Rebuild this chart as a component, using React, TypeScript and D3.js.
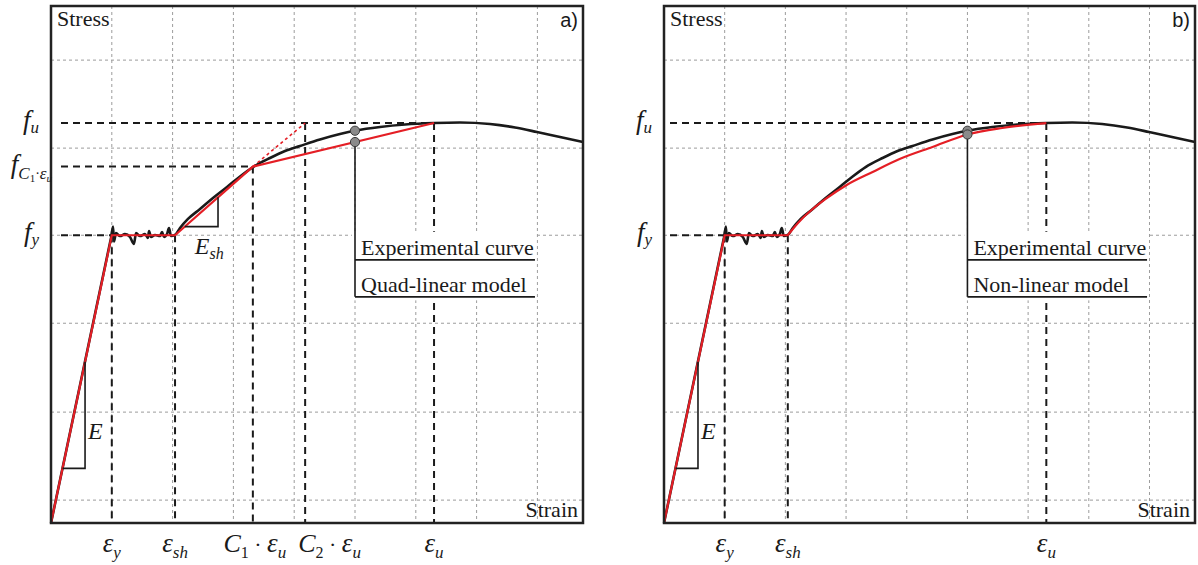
import * as d3 from "d3";
import React, { useEffect, useRef } from "react";

// schematic stress-strain curves, arbitrary units (1 grid step = 1 unit of strain)
const STRAIN_GRID = [1, 2, 3, 4, 5, 6, 7, 8];
const STRESS_GRID = [0.26, 1.26, 2.27, 3.27, 4.26, 5.26];

const EPS_Y = 1.0;
const EPS_SH = 2.04;
const C1_EPS_U = 3.32;
const C2_EPS_U = 4.18;
const EPS_U = 6.3;
const F_Y = 3.27;
const F_C1 = 4.05;
const F_U = 4.545;
const MARK_STRAIN = 5.0;

// experimental curve [strain, stress]
const experimental = [
  [0, 0], [0.987, 3.239], [1.02, 3.37], [1.036, 3.2], [1.069, 3.295],
  [1.135, 3.261], [1.217, 3.284], [1.299, 3.25], [1.365, 3.172], [1.398, 3.295],
  [1.464, 3.261], [1.546, 3.284], [1.595, 3.239], [1.612, 3.318], [1.645, 3.25],
  [1.711, 3.273], [1.793, 3.261], [1.826, 3.307], [1.859, 3.25], [1.908, 3.284],
  [1.941, 3.352], [1.974, 3.261], [2.039, 3.273], [2.122, 3.352], [2.253, 3.455],
  [2.451, 3.568], [2.664, 3.693], [2.895, 3.818], [3.109, 3.938], [3.322, 4.045],
  [3.602, 4.148], [3.849, 4.227], [4.095, 4.284], [4.424, 4.358], [4.753, 4.42],
  [5.016, 4.46], [5.411, 4.5], [5.822, 4.528], [6.299, 4.545], [6.727, 4.551],
  [7.22, 4.534], [7.632, 4.494], [7.993, 4.443], [8.372, 4.386], [8.75, 4.33],
];

const quadLinear = [
  [0, 0], [EPS_Y, F_Y], [EPS_SH, F_Y], [C1_EPS_U, F_C1], [EPS_U, F_U],
];
const eshExtension = [[C1_EPS_U, F_C1], [C2_EPS_U, F_U]];

// non-linear model: straight elastic + plateau, then the hardening branch
const nonLinearStraight = [[0, 0], [EPS_Y, F_Y], [EPS_SH, F_Y]];
const nonLinearHardening = [
  [EPS_SH, F_Y], [2.122, 3.341], [2.286, 3.466], [2.451, 3.568], [2.664, 3.682],
  [3.01, 3.841], [3.438, 3.989], [3.882, 4.136], [4.424, 4.273], [5.0, 4.415],
  [5.576, 4.489], [EPS_U, F_U],
];

const E_TRI = [0.19, 0.56];
const ESH_TRI = [2.2, 2.747];

const RED = "#e41e25";
const INK = "#1a1a1a";
const SERIF = "Liberation Serif, Tinos, Times New Roman, Times, DejaVu Serif, serif";
const SANS = "Liberation Sans, Arimo, Arial, sans-serif";

const panels = [
  { left: 51, top: 6, width: 532, height: 517, kind: "quad", tag: "a)", model: "Quad-linear model", refStart: 10 },
  { left: 664, top: 6, width: 531, height: 517, kind: "nonlinear", tag: "b)", model: "Non-linear model", refStart: 6 },
];

// piecewise linear lookup
const stressAt = (pts, s) => {
  const i = d3.bisector((d) => d[0]).left(pts, s);
  if (i <= 0) return pts[0][1];
  if (i >= pts.length) return pts[pts.length - 1][1];
  const [x0, y0] = pts[i - 1];
  const [x1, y1] = pts[i];
  return y0 + ((s - x0) / (x1 - x0)) * (y1 - y0);
};

const drawPanel = (svg, p) => {
  const x = d3.scaleLinear().domain([0, 8.75]).range([0, p.width]);
  const y = d3.scaleLinear().domain([0, 5.875]).range([p.height, 0]);
  const g = svg.append("g").attr("transform", `translate(${p.left},${p.top})`);
  const quad = p.kind === "quad";

  // light grid
  g.selectAll(".vgrid").data(STRAIN_GRID).join("line")
    .attr("x1", (d) => x(d)).attr("x2", (d) => x(d))
    .attr("y1", 0).attr("y2", p.height)
    .attr("stroke", "#9c9c9c").attr("stroke-width", 1).attr("stroke-dasharray", "3,3");
  g.selectAll(".hgrid").data(STRESS_GRID).join("line")
    .attr("x1", 0).attr("x2", p.width)
    .attr("y1", (d) => y(d)).attr("y2", (d) => y(d))
    .attr("stroke", "#9c9c9c").attr("stroke-width", 1).attr("stroke-dasharray", "3,3");

  // reference dashed lines
  const hRefs = [[F_U, EPS_U], [F_Y, EPS_Y]];
  const vRefs = [[EPS_Y, F_Y], [EPS_SH, F_Y], [EPS_U, F_U]];
  if (quad) {
    hRefs.push([F_C1, C1_EPS_U]);
    vRefs.push([C1_EPS_U, F_C1], [C2_EPS_U, F_U]);
  }
  hRefs.forEach(([f, e]) => {
    g.append("line").attr("x1", p.refStart).attr("x2", x(e)).attr("y1", y(f)).attr("y2", y(f))
      .attr("stroke", INK).attr("stroke-width", 2).attr("stroke-dasharray", "7,5");
  });
  vRefs.forEach(([e, f]) => {
    g.append("line").attr("x1", x(e)).attr("x2", x(e)).attr("y1", y(f)).attr("y2", p.height)
      .attr("stroke", INK).attr("stroke-width", 2).attr("stroke-dasharray", "7,5");
  });

  // legend background
  g.append("rect")
    .attr("x", x(4.95)).attr("y", y(3.31))
    .attr("width", x(7.98) - x(4.95)).attr("height", y(2.53) - y(3.31))
    .attr("fill", "white");

  const lin = d3.line().x((d) => x(d[0])).y((d) => y(d[1]));
  const smooth = d3.line().x((d) => x(d[0])).y((d) => y(d[1])).curve(d3.curveMonotoneX);

  // experimental: straight elastic part, smooth afterwards
  g.append("path").attr("d", lin(experimental.slice(0, 2)) + smooth(experimental.slice(1)).replace(/^M/, "L"))
    .attr("fill", "none").attr("stroke", INK).attr("stroke-width", 2.6)
    .attr("stroke-linejoin", "round");

  if (quad) {
    g.append("path").attr("d", lin(quadLinear))
      .attr("fill", "none").attr("stroke", RED).attr("stroke-width", 2.2);
    g.append("path").attr("d", lin(eshExtension))
      .attr("fill", "none").attr("stroke", RED).attr("stroke-width", 1.6)
      .attr("stroke-dasharray", "3,3");
  } else {
    g.append("path").attr("d", lin(nonLinearStraight) + smooth(nonLinearHardening).replace(/^M/, "L"))
      .attr("fill", "none").attr("stroke", RED).attr("stroke-width", 2.2);
  }
  const model = quad ? quadLinear : nonLinearHardening;

  // slope triangles
  const kE = F_Y / EPS_Y;
  g.append("path")
    .attr("d", `M${x(E_TRI[0])},${y(E_TRI[0] * kE)}H${x(E_TRI[1])}V${y(E_TRI[1] * kE)}`)
    .attr("fill", "none").attr("stroke", INK).attr("stroke-width", 1.6);
  g.append("text").attr("x", x(E_TRI[1]) + 3).attr("y", y(0.95))
    .attr("font-family", SERIF).attr("font-style", "italic").attr("font-size", 24)
    .attr("fill", INK).text("E");

  if (quad) {
    const kSh = (F_C1 - F_Y) / (C1_EPS_U - EPS_SH);
    const sAt = (s) => F_Y + (s - EPS_SH) * kSh;
    g.append("path")
      .attr("d", `M${x(ESH_TRI[0])},${y(sAt(ESH_TRI[0]))}H${x(ESH_TRI[1])}V${y(sAt(ESH_TRI[1]))}`)
      .attr("fill", "none").attr("stroke", INK).attr("stroke-width", 1.6);
    const t = g.append("text").attr("x", x(ESH_TRI[0]) + 10).attr("y", y(sAt(ESH_TRI[0])) + 27)
      .attr("font-family", SERIF).attr("font-style", "italic").attr("font-size", 24).attr("fill", INK);
    t.append("tspan").text("E");
    t.append("tspan").attr("font-size", 16).attr("dy", 5).text("sh");
  }

  // markers and legend
  const yBlack = y(stressAt(experimental, MARK_STRAIN));
  const yRed = y(stressAt(model, MARK_STRAIN));
  const xm = x(MARK_STRAIN);
  const yTop = y(2.99);
  const yBot = y(2.57);
  g.append("line").attr("x1", xm).attr("x2", xm).attr("y1", yRed).attr("y2", yBot)
    .attr("stroke", INK).attr("stroke-width", 1.6);
  [yTop, yBot].forEach((yy) => {
    g.append("line").attr("x1", xm).attr("x2", x(7.96)).attr("y1", yy).attr("y2", yy)
      .attr("stroke", INK).attr("stroke-width", 1.6);
  });
  [yBlack, yRed].forEach((yy) => {
    g.append("circle").attr("cx", xm).attr("cy", yy).attr("r", 4.6)
      .attr("fill", "#8a8a8a").attr("stroke", "#3a3a3a").attr("stroke-width", 1);
  });
  g.append("text").attr("x", xm + 6).attr("y", yTop - 5)
    .attr("font-family", SERIF).attr("font-size", 22).attr("fill", INK).text("Experimental curve");
  g.append("text").attr("x", xm + 6).attr("y", yBot - 5)
    .attr("font-family", SERIF).attr("font-size", 22).attr("fill", INK).text(p.model);

  // frame and corner text
  g.append("rect").attr("width", p.width).attr("height", p.height)
    .attr("fill", "none").attr("stroke", "#222").attr("stroke-width", 2.5);
  g.append("text").attr("x", 6).attr("y", 20)
    .attr("font-family", SERIF).attr("font-size", 22).attr("fill", INK).text("Stress");
  g.append("text").attr("x", p.width - 5).attr("y", p.height - 6).attr("text-anchor", "end")
    .attr("font-family", SERIF).attr("font-size", 22).attr("fill", INK).text("Strain");
  g.append("text").attr("x", p.width - 5).attr("y", 21).attr("text-anchor", "end")
    .attr("font-family", SANS).attr("font-size", 20)
    .attr("fill", INK).text(p.tag);

  // stress labels
  const fLabel = (stress, parts, xr) => {
    const t = g.append("text").attr("x", xr).attr("y", y(stress) + 6).attr("text-anchor", "end")
      .attr("font-family", SERIF).attr("font-style", "italic").attr("font-size", 27).attr("fill", INK);
    t.append("tspan").text("f");
    parts.forEach(([txt, size, dy, style]) => {
      const s = t.append("tspan").attr("font-size", size).attr("dy", dy).text(txt);
      if (style) s.attr("font-style", style);
    });
  };
  fLabel(F_U, [["u", 17, 4]], -12);
  fLabel(F_Y, [["y", 17, 4]], -12);
  if (quad) {
    fLabel(F_C1, [["C", 17, 6], ["1", 11, 3, "normal"], ["\u00b7", 14, -4, "normal"], ["\u03b5", 17, 1], ["u", 11, 3]], 1);
  }

  // strain labels
  const eLabel = (strain, parts, anchor, dx) => {
    const t = g.append("text").attr("x", x(strain) + dx).attr("y", p.height + 29)
      .attr("text-anchor", anchor).attr("font-family", SERIF).attr("font-style", "italic")
      .attr("font-size", 27).attr("fill", INK);
    parts.forEach(([txt, size, dy, style]) => {
      const s = t.append("tspan").attr("font-size", size).attr("dy", dy).text(txt);
      if (style) s.attr("font-style", style);
    });
  };
  eLabel(EPS_Y, [["\u03b5", 27, 0], ["y", 17, 6]], "middle", 0);
  eLabel(EPS_SH, [["\u03b5", 27, 0], ["sh", 17, 6]], "middle", 0);
  eLabel(EPS_U, [["\u03b5", 27, 0], ["u", 17, 6]], "middle", 0);
  if (quad) {
    const cParts = (n) => [["C", 26, 0], [n, 16, 6, "normal"], [" \u00b7 ", 22, -6, "normal"], ["\u03b5", 27, 0], ["u", 17, 6]];
    eLabel(C1_EPS_U, cParts("1"), "middle", 2);
    eLabel(C2_EPS_U, cParts("2"), "start", -7);
  }
};

const App = () => {
  const ref = useRef(null);

  useEffect(() => {
    const svg = d3.select(ref.current);
    svg.selectAll("*").remove();
    panels.forEach((p) => drawPanel(svg, p));
  }, []);

  return (
    <svg
      ref={ref}
      width={1198}
      height={565}
      style={{ position: "absolute", left: 0, top: 0, background: "white" }}
    />
  );
};

export default App;
